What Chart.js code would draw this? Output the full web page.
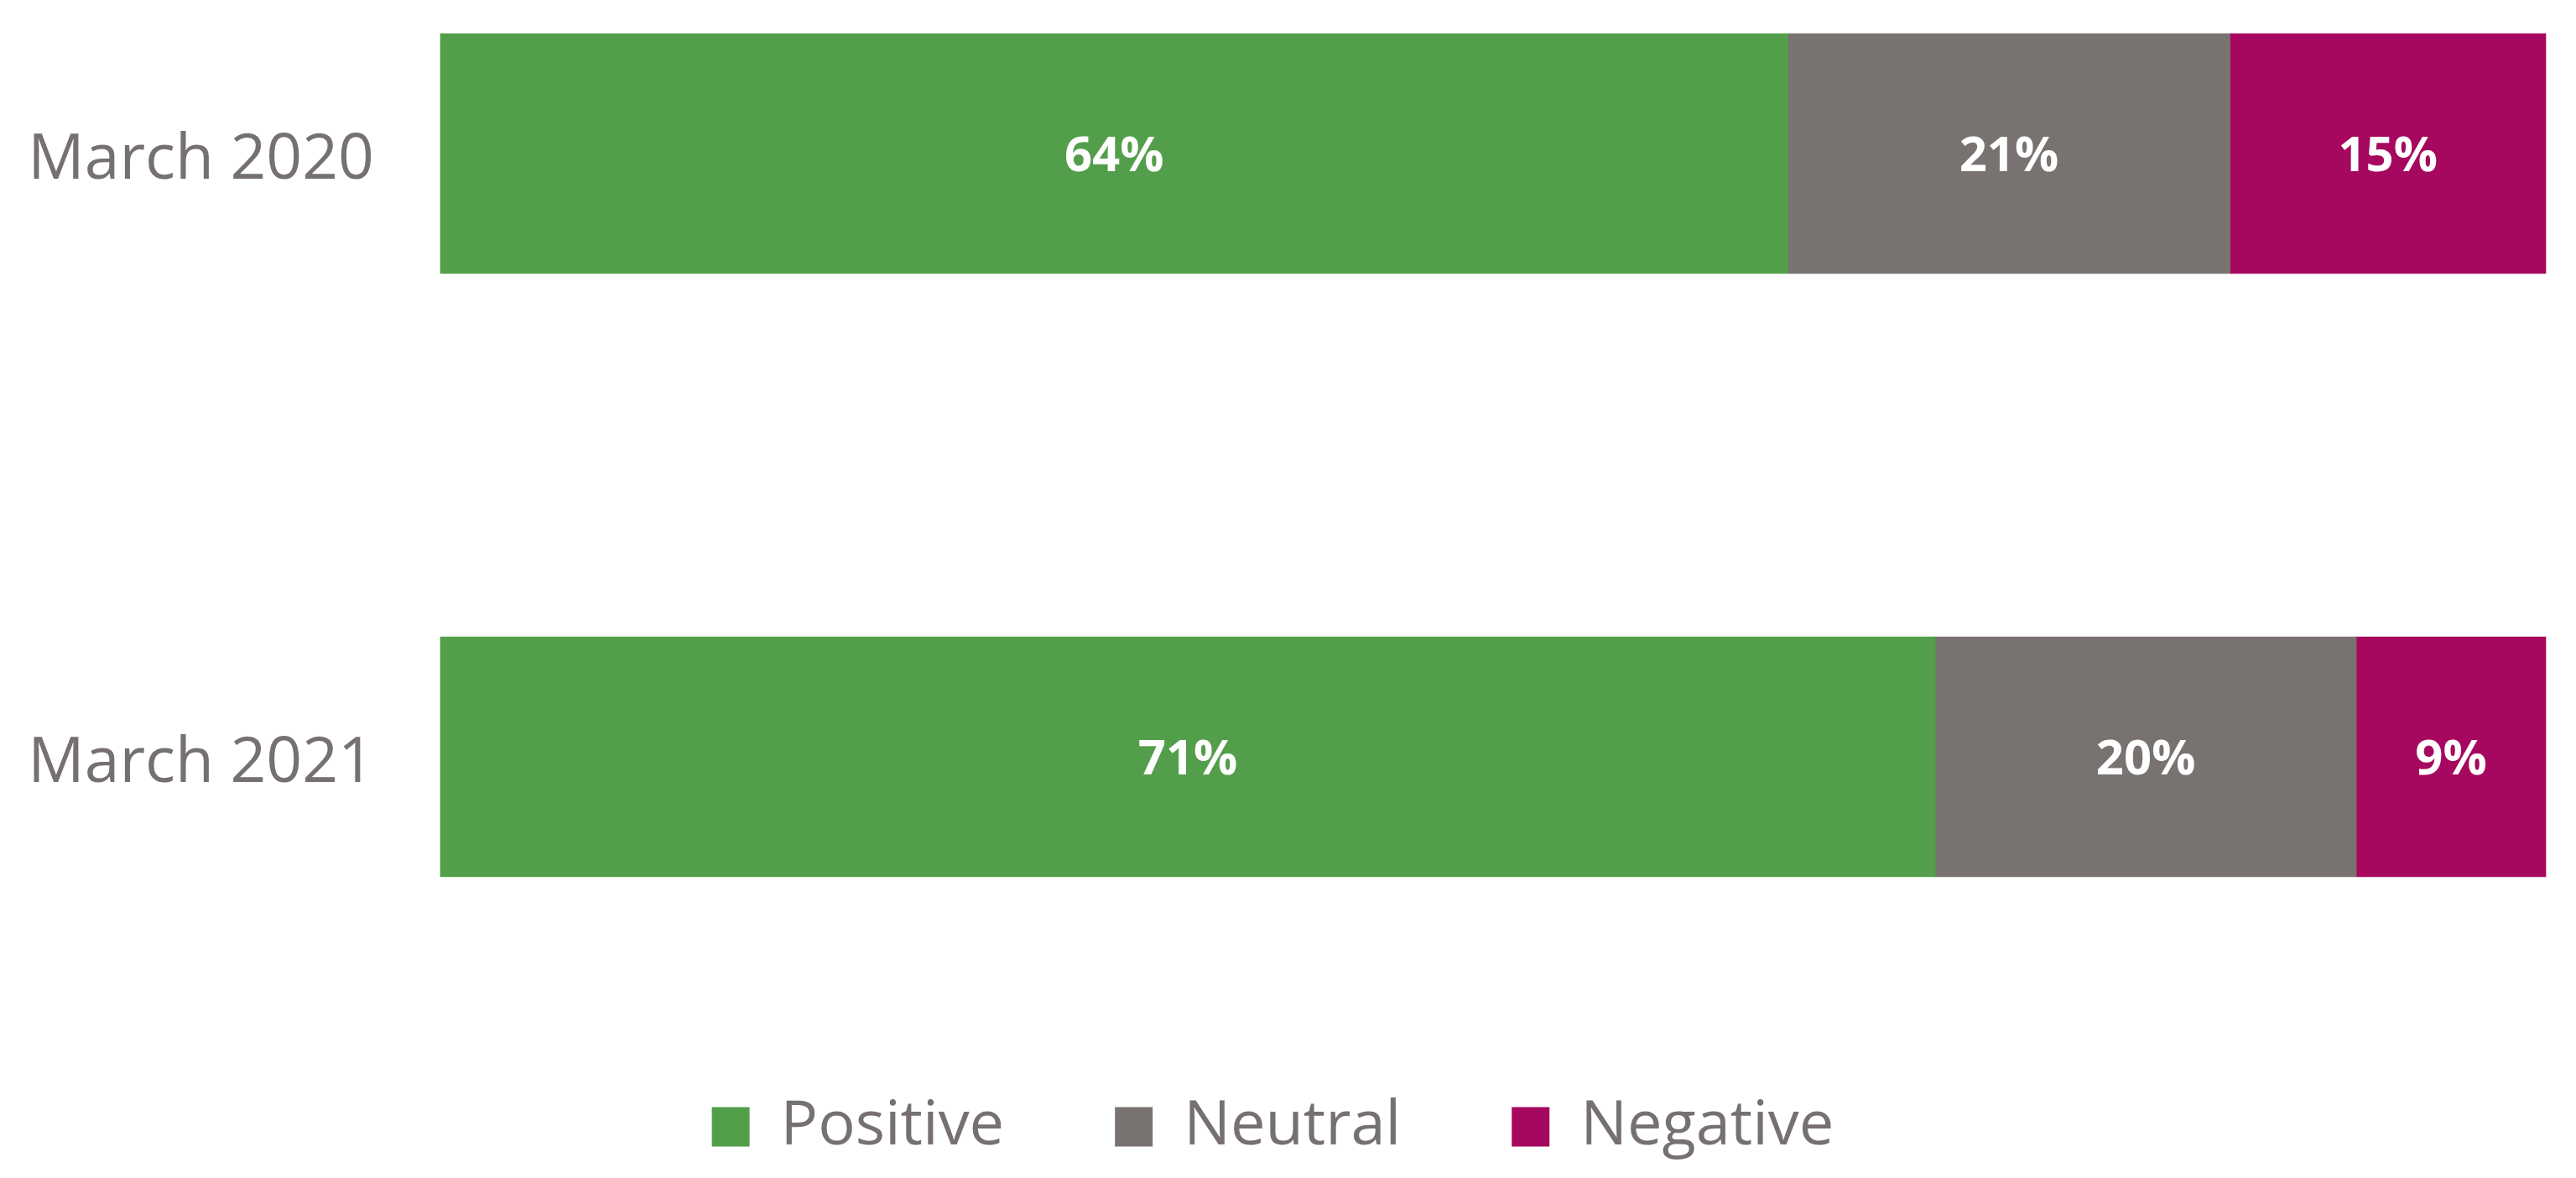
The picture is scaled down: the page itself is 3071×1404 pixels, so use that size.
<!DOCTYPE html>
<html>
<head>
<meta charset="utf-8">
<script src="https://cdn.jsdelivr.net/npm/chart.js@4/dist/chart.umd.min.js"></script>
<style>
  html, body { margin: 0; padding: 0; background: #ffffff; }
  #wrap { width: 3071px; height: 1404px; position: relative; }
</style>
</head>
<body>
<div id="wrap"><canvas id="sentimentChart"></canvas></div>
<script>
// chart values
const categories = ['March 2020', 'March 2021'];
const seriesNames = ['Positive', 'Neutral', 'Negative'];
const positiveValues = [64, 71];
const neutralValues = [21, 20];
const negativeValues = [15, 9];
const seriesColors = ['#539e4a', '#787271', '#a6085f'];

const textGrey = '#767070';

// white value labels in the middle of each segment
const barLabels = {
  id: 'barLabels',
  afterDatasetsDraw: function (chart) {
    const ctx = chart.ctx;
    ctx.save();
    ctx.font = 'bold 58px "Open Sans"';
    ctx.fillStyle = '#ffffff';
    ctx.textAlign = 'center';
    ctx.textBaseline = 'middle';
    chart.data.datasets.forEach((ds, i) => {
      const meta = chart.getDatasetMeta(i);
      if (meta.hidden) return;
      meta.data.forEach((bar, j) => {
        const p = bar.getCenterPoint();
        ctx.fillText(ds.data[j] + '%', p.x, p.y + 4);
      });
    });
    ctx.restore();
  }
};

function makeChart() {
  const ctx = document.getElementById('sentimentChart').getContext('2d');
  const allValues = [positiveValues, neutralValues, negativeValues];
  new Chart(ctx, {
    type: 'bar',
    data: {
      labels: categories,
      datasets: seriesNames.map((name, i) => {
        return {
          label: name,
          data: allValues[i],
          backgroundColor: seriesColors[i],
          borderColor: seriesColors[i],
          borderWidth: 0,
          barThickness: 286,
          clip: false
        };
      })
    },
    plugins: [barLabels],
    options: {
      indexAxis: 'y',
      responsive: true,
      maintainAspectRatio: false,
      animation: false,
      devicePixelRatio: 1,
      layout: {
        padding: { top: 183, left: 0, right: 36, bottom: 14 }
      },
      scales: {
        x: {
          stacked: true,
          min: 0,
          max: 100,
          grid: { display: false },
          border: { display: false },
          ticks: { display: false },
          afterFit: function (scale) { scale.height = 272; }
        },
        y: {
          stacked: true,
          offset: false,
          grid: { display: false, drawTicks: false },
          border: { display: false },
          ticks: {
            color: textGrey,
            padding: 79,
            labelOffset: 9,
            font: { family: 'Open Sans', size: 75 }
          },
          afterFit: function (scale) { scale.width = 525; }
        }
      },
      plugins: {
        legend: {
          position: 'bottom',
          labels: {
            color: textGrey,
            boxWidth: 45,
            boxHeight: 47,
            padding: 132,
            font: { family: 'Open Sans', size: 74 }
          }
        },
        tooltip: { enabled: false }
      }
    }
  });
}

Promise.all([
  document.fonts.load('75px "Open Sans"'),
  document.fonts.load('bold 58px "Open Sans"')
]).then(makeChart, makeChart);
</script>
</body>
</html>
